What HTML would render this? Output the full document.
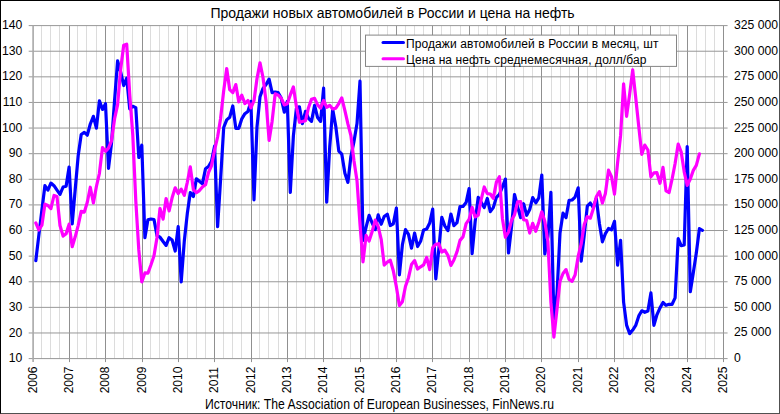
<!DOCTYPE html>
<html><head><meta charset="utf-8"><title>chart</title>
<style>
html,body{margin:0;padding:0;background:#fff;}
body{width:780px;height:414px;overflow:hidden;position:relative;font-family:"Liberation Sans",sans-serif;color:#000;}
#frame{position:absolute;left:0;top:0;width:780px;height:414px;box-sizing:border-box;border-left:1px solid #000;border-top:1px solid #000;border-right:1px solid #505050;border-bottom:1px solid #505050;}
.yl{position:absolute;left:0;width:22.3px;text-align:right;font-size:12.2px;line-height:14px;height:14px;}
.yr{position:absolute;left:734px;width:46px;text-align:left;font-size:12.2px;line-height:14px;height:14px;white-space:pre;}
.xl{position:absolute;top:379.5px;font-size:12px;line-height:14px;height:14px;width:40px;margin-left:-20px;margin-top:-7px;text-align:center;transform:rotate(-90deg);transform-origin:50% 50%;}
#title{position:absolute;left:210.5px;top:5px;font-size:14px;line-height:17px;white-space:nowrap;transform-origin:0 0;}
#src{position:absolute;left:205px;top:395.8px;font-size:14px;line-height:16px;white-space:nowrap;transform-origin:0 0;transform:scaleX(0.871);}
.lg{position:absolute;left:406px;font-size:12px;line-height:14px;white-space:pre;transform-origin:0 0;}
</style></head><body>
<div id="frame"></div>
<svg width="780" height="414" viewBox="0 0 780 414" style="position:absolute;left:0;top:0">
<g stroke="#dcdcdc" stroke-width="1">
<line x1="41.50" y1="25.6" x2="41.50" y2="358.6"/>
<line x1="50.50" y1="25.6" x2="50.50" y2="358.6"/>
<line x1="59.50" y1="25.6" x2="59.50" y2="358.6"/>
<line x1="77.50" y1="25.6" x2="77.50" y2="358.6"/>
<line x1="86.50" y1="25.6" x2="86.50" y2="358.6"/>
<line x1="96.50" y1="25.6" x2="96.50" y2="358.6"/>
<line x1="114.50" y1="25.6" x2="114.50" y2="358.6"/>
<line x1="123.50" y1="25.6" x2="123.50" y2="358.6"/>
<line x1="132.50" y1="25.6" x2="132.50" y2="358.6"/>
<line x1="150.50" y1="25.6" x2="150.50" y2="358.6"/>
<line x1="159.50" y1="25.6" x2="159.50" y2="358.6"/>
<line x1="168.50" y1="25.6" x2="168.50" y2="358.6"/>
<line x1="187.50" y1="25.6" x2="187.50" y2="358.6"/>
<line x1="196.50" y1="25.6" x2="196.50" y2="358.6"/>
<line x1="205.50" y1="25.6" x2="205.50" y2="358.6"/>
<line x1="223.50" y1="25.6" x2="223.50" y2="358.6"/>
<line x1="232.50" y1="25.6" x2="232.50" y2="358.6"/>
<line x1="241.50" y1="25.6" x2="241.50" y2="358.6"/>
<line x1="259.50" y1="25.6" x2="259.50" y2="358.6"/>
<line x1="268.50" y1="25.6" x2="268.50" y2="358.6"/>
<line x1="278.50" y1="25.6" x2="278.50" y2="358.6"/>
<line x1="296.50" y1="25.6" x2="296.50" y2="358.6"/>
<line x1="305.50" y1="25.6" x2="305.50" y2="358.6"/>
<line x1="314.50" y1="25.6" x2="314.50" y2="358.6"/>
<line x1="332.50" y1="25.6" x2="332.50" y2="358.6"/>
<line x1="341.50" y1="25.6" x2="341.50" y2="358.6"/>
<line x1="350.50" y1="25.6" x2="350.50" y2="358.6"/>
<line x1="369.50" y1="25.6" x2="369.50" y2="358.6"/>
<line x1="378.50" y1="25.6" x2="378.50" y2="358.6"/>
<line x1="387.50" y1="25.6" x2="387.50" y2="358.6"/>
<line x1="405.50" y1="25.6" x2="405.50" y2="358.6"/>
<line x1="414.50" y1="25.6" x2="414.50" y2="358.6"/>
<line x1="423.50" y1="25.6" x2="423.50" y2="358.6"/>
<line x1="441.50" y1="25.6" x2="441.50" y2="358.6"/>
<line x1="450.50" y1="25.6" x2="450.50" y2="358.6"/>
<line x1="460.50" y1="25.6" x2="460.50" y2="358.6"/>
<line x1="478.50" y1="25.6" x2="478.50" y2="358.6"/>
<line x1="487.50" y1="25.6" x2="487.50" y2="358.6"/>
<line x1="496.50" y1="25.6" x2="496.50" y2="358.6"/>
<line x1="514.50" y1="25.6" x2="514.50" y2="358.6"/>
<line x1="523.50" y1="25.6" x2="523.50" y2="358.6"/>
<line x1="532.50" y1="25.6" x2="532.50" y2="358.6"/>
<line x1="551.50" y1="25.6" x2="551.50" y2="358.6"/>
<line x1="560.50" y1="25.6" x2="560.50" y2="358.6"/>
<line x1="569.50" y1="25.6" x2="569.50" y2="358.6"/>
<line x1="587.50" y1="25.6" x2="587.50" y2="358.6"/>
<line x1="596.50" y1="25.6" x2="596.50" y2="358.6"/>
<line x1="605.50" y1="25.6" x2="605.50" y2="358.6"/>
<line x1="623.50" y1="25.6" x2="623.50" y2="358.6"/>
<line x1="632.50" y1="25.6" x2="632.50" y2="358.6"/>
<line x1="642.50" y1="25.6" x2="642.50" y2="358.6"/>
<line x1="660.50" y1="25.6" x2="660.50" y2="358.6"/>
<line x1="669.50" y1="25.6" x2="669.50" y2="358.6"/>
<line x1="678.50" y1="25.6" x2="678.50" y2="358.6"/>
<line x1="696.50" y1="25.6" x2="696.50" y2="358.6"/>
<line x1="705.50" y1="25.6" x2="705.50" y2="358.6"/>
<line x1="714.50" y1="25.6" x2="714.50" y2="358.6"/>
</g>
<g stroke="#909090" stroke-width="1">
<line x1="69.50" y1="25.6" x2="69.50" y2="362.1"/>
<line x1="105.50" y1="25.6" x2="105.50" y2="362.1"/>
<line x1="142.50" y1="25.6" x2="142.50" y2="362.1"/>
<line x1="178.50" y1="25.6" x2="178.50" y2="362.1"/>
<line x1="214.50" y1="25.6" x2="214.50" y2="362.1"/>
<line x1="251.50" y1="25.6" x2="251.50" y2="362.1"/>
<line x1="287.50" y1="25.6" x2="287.50" y2="362.1"/>
<line x1="323.50" y1="25.6" x2="323.50" y2="362.1"/>
<line x1="360.50" y1="25.6" x2="360.50" y2="362.1"/>
<line x1="396.50" y1="25.6" x2="396.50" y2="362.1"/>
<line x1="432.50" y1="25.6" x2="432.50" y2="362.1"/>
<line x1="469.50" y1="25.6" x2="469.50" y2="362.1"/>
<line x1="505.50" y1="25.6" x2="505.50" y2="362.1"/>
<line x1="541.50" y1="25.6" x2="541.50" y2="362.1"/>
<line x1="578.50" y1="25.6" x2="578.50" y2="362.1"/>
<line x1="614.50" y1="25.6" x2="614.50" y2="362.1"/>
<line x1="650.50" y1="25.6" x2="650.50" y2="362.1"/>
<line x1="687.50" y1="25.6" x2="687.50" y2="362.1"/>
<line x1="723.50" y1="25.6" x2="723.50" y2="362.1"/>
</g>
<g stroke="#989898" stroke-width="1">
<line x1="28.7" y1="25.60" x2="727.6" y2="25.60"/>
<line x1="28.7" y1="51.22" x2="727.6" y2="51.22"/>
<line x1="28.7" y1="76.83" x2="727.6" y2="76.83"/>
<line x1="28.7" y1="102.45" x2="727.6" y2="102.45"/>
<line x1="28.7" y1="128.06" x2="727.6" y2="128.06"/>
<line x1="28.7" y1="153.68" x2="727.6" y2="153.68"/>
<line x1="28.7" y1="179.29" x2="727.6" y2="179.29"/>
<line x1="28.7" y1="204.91" x2="727.6" y2="204.91"/>
<line x1="28.7" y1="230.52" x2="727.6" y2="230.52"/>
<line x1="28.7" y1="256.14" x2="727.6" y2="256.14"/>
<line x1="28.7" y1="281.75" x2="727.6" y2="281.75"/>
<line x1="28.7" y1="307.37" x2="727.6" y2="307.37"/>
<line x1="28.7" y1="332.98" x2="727.6" y2="332.98"/>
<line x1="28.7" y1="358.60" x2="727.6" y2="358.60"/>
</g>
<line x1="33.1" y1="25.6" x2="33.1" y2="362.1" stroke="#a8a8a8" stroke-width="1.6"/>
<path d="M35.8,260.7 L38.8,235.6 L41.9,210.0 L44.9,185.7 L47.9,190.1 L50.9,183.1 L54.0,185.7 L57.0,190.1 L60.0,194.4 L63.1,187.0 L66.1,186.2 L69.1,167.0 L72.2,223.9 L75.2,189.5 L78.2,155.5 L81.2,134.5 L84.3,132.4 L87.3,135.2 L90.3,124.0 L93.4,116.3 L96.4,128.1 L99.4,100.9 L102.5,109.4 L105.5,103.7 L108.5,168.3 L111.5,143.4 L114.6,99.9 L117.6,60.9 L120.6,71.7 L123.7,85.5 L126.7,78.1 L129.7,108.9 L132.8,106.3 L135.8,107.6 L138.8,157.5 L141.8,145.2 L144.9,237.7 L147.9,219.8 L150.9,219.0 L154.0,219.5 L157.0,235.6 L160.0,237.2 L163.1,241.5 L166.1,245.4 L169.1,237.7 L172.1,240.0 L175.2,251.0 L178.2,226.7 L181.2,282.0 L184.3,241.0 L187.3,213.6 L190.3,192.6 L193.4,196.5 L196.4,178.8 L199.4,181.3 L202.4,183.9 L205.5,168.8 L208.5,166.5 L211.5,161.4 L214.6,146.0 L217.6,226.7 L220.6,179.3 L223.7,127.5 L226.7,119.9 L229.7,117.3 L232.8,106.0 L235.8,128.3 L238.8,128.3 L241.8,118.8 L244.9,113.7 L247.9,111.4 L250.9,101.4 L254.0,199.8 L257.0,126.8 L260.0,96.8 L263.0,88.4 L266.1,84.5 L269.1,79.1 L272.1,92.7 L275.2,92.2 L278.2,92.7 L281.2,98.1 L284.3,112.2 L287.3,101.4 L290.3,192.4 L293.4,135.7 L296.4,108.3 L299.4,106.8 L302.4,123.7 L305.5,111.4 L308.5,118.3 L311.5,121.4 L314.6,105.3 L317.6,117.6 L320.6,121.4 L323.6,88.1 L326.7,202.2 L329.7,147.0 L332.7,109.3 L335.8,126.5 L338.8,151.1 L341.8,154.2 L344.9,173.3 L347.9,182.4 L350.9,156.5 L353.9,142.0 L357.0,123.6 L360.0,81.2 L363.0,240.4 L366.1,227.1 L369.1,215.3 L372.1,222.8 L375.2,229.7 L378.2,214.9 L381.2,224.3 L384.2,216.5 L387.3,214.2 L390.3,225.5 L393.3,223.8 L396.4,208.1 L399.4,274.8 L402.4,244.8 L405.5,229.6 L408.5,234.3 L411.5,248.2 L414.6,233.0 L417.6,246.5 L420.6,241.3 L423.6,229.9 L426.7,228.9 L429.7,223.0 L432.7,209.0 L435.8,278.8 L438.8,249.3 L441.8,217.3 L444.8,225.9 L447.9,230.6 L450.9,214.0 L453.9,225.7 L457.0,222.6 L460.0,206.5 L463.0,206.5 L466.1,202.6 L469.1,188.5 L472.1,253.6 L475.1,222.1 L478.2,197.4 L481.2,202.4 L484.2,207.5 L487.3,198.4 L490.3,211.6 L493.3,207.6 L496.4,197.3 L499.4,194.3 L502.4,187.0 L505.4,179.1 L508.5,253.0 L511.5,227.0 L514.5,194.5 L517.6,206.6 L520.6,217.6 L523.6,203.7 L526.7,215.3 L529.7,209.5 L532.7,197.6 L535.8,202.8 L538.8,197.9 L541.8,175.0 L544.8,254.0 L547.9,236.6 L550.9,192.3 L553.9,318.7 L557.0,294.0 L560.0,233.0 L563.0,213.2 L566.0,217.7 L569.1,200.4 L572.1,200.0 L575.1,197.1 L578.2,187.8 L581.2,261.1 L584.2,235.6 L587.3,206.2 L590.3,203.0 L593.3,207.6 L596.3,198.4 L599.4,223.4 L602.4,241.8 L605.4,233.6 L608.5,228.5 L611.5,229.8 L614.5,221.3 L617.6,265.2 L620.6,240.3 L623.6,302.1 L626.6,325.1 L629.7,333.7 L632.7,330.1 L635.7,325.4 L638.8,315.9 L641.8,310.8 L644.8,312.3 L647.9,311.1 L650.9,292.9 L653.9,325.3 L656.9,314.8 L660.0,307.9 L663.0,302.5 L666.0,305.3 L669.1,304.3 L672.1,304.3 L675.1,297.9 L678.2,238.7 L681.2,245.6 L684.2,244.9 L687.2,146.5 L690.3,291.7 L693.3,272.8 L696.3,253.1 L699.4,228.7 L702.4,230.3" fill="none" stroke="#0000ff" stroke-width="3.2" stroke-linejoin="round" stroke-linecap="round"/>
<path d="M35.8,222.9 L38.8,230.0 L41.9,225.2 L44.9,204.2 L47.9,205.5 L50.9,208.6 L54.0,195.5 L57.0,196.6 L60.0,225.5 L63.1,236.1 L66.1,233.7 L69.1,224.2 L72.2,246.7 L75.2,236.8 L78.2,225.3 L81.2,211.3 L84.3,212.1 L87.3,202.2 L90.3,187.2 L93.4,203.0 L96.4,186.5 L99.4,173.3 L102.5,147.5 L105.5,151.3 L108.5,148.1 L111.5,140.9 L114.6,118.7 L117.6,104.8 L120.6,69.7 L123.7,45.3 L126.7,44.2 L129.7,94.1 L132.8,135.2 L135.8,200.9 L138.8,249.9 L141.8,281.9 L144.9,272.9 L147.9,273.2 L150.9,265.0 L154.0,255.7 L157.0,237.4 L160.0,208.5 L163.1,219.1 L166.1,198.5 L169.1,210.9 L172.1,197.8 L175.2,187.8 L178.2,193.5 L181.2,189.1 L184.3,195.3 L187.3,182.3 L190.3,166.9 L193.4,189.7 L196.4,192.7 L199.4,190.6 L202.4,186.9 L205.5,184.8 L208.5,172.5 L211.5,165.8 L214.6,150.0 L217.6,137.0 L220.6,118.5 L223.7,90.6 L226.7,68.5 L229.7,89.7 L232.8,92.6 L235.8,84.6 L238.8,101.9 L241.8,95.2 L244.9,103.6 L247.9,100.5 L250.9,107.9 L254.0,100.7 L257.0,78.5 L260.0,62.9 L263.0,77.5 L266.1,101.6 L269.1,140.5 L272.1,121.4 L275.2,93.8 L278.2,95.1 L281.2,98.1 L284.3,104.9 L287.3,103.8 L290.3,94.9 L293.4,86.9 L296.4,106.4 L299.4,122.3 L302.4,121.5 L305.5,120.6 L308.5,107.7 L311.5,99.2 L314.6,98.3 L317.6,104.8 L320.6,108.1 L323.6,100.5 L326.7,107.3 L329.7,105.3 L332.7,108.9 L335.8,108.2 L338.8,103.6 L341.8,97.8 L344.9,110.7 L347.9,123.9 L350.9,135.5 L353.9,160.3 L357.0,180.7 L360.0,224.5 L363.0,261.9 L366.1,235.4 L369.1,241.1 L372.1,231.8 L375.2,220.1 L378.2,226.7 L381.2,239.3 L384.2,265.1 L387.3,262.2 L390.3,260.2 L393.3,270.8 L396.4,286.9 L399.4,305.6 L402.4,301.8 L405.5,286.3 L408.5,277.7 L411.5,264.5 L414.6,260.6 L417.6,269.1 L420.6,266.8 L423.6,264.9 L426.7,257.4 L429.7,269.6 L432.7,247.7 L435.8,244.4 L438.8,243.7 L441.8,252.1 L444.8,250.2 L447.9,255.3 L450.9,265.4 L453.9,260.0 L457.0,251.8 L460.0,240.4 L463.0,236.9 L466.1,223.6 L469.1,219.3 L472.1,207.3 L475.1,216.9 L478.2,215.1 L481.2,199.5 L484.2,187.0 L487.3,193.6 L490.3,194.0 L493.3,198.4 L496.4,182.1 L499.4,176.7 L502.4,218.4 L505.4,237.3 L508.5,232.0 L511.5,220.4 L514.5,214.8 L517.6,201.8 L520.6,201.5 L523.6,219.7 L526.7,220.5 L529.7,233.0 L532.7,223.3 L535.8,231.3 L538.8,222.3 L541.8,211.8 L544.8,221.2 L547.9,241.6 L550.9,302.2 L553.9,337.1 L557.0,309.0 L560.0,281.1 L563.0,273.5 L566.0,269.6 L569.1,279.4 L572.1,281.3 L575.1,274.9 L578.2,256.2 L581.2,243.9 L584.2,224.7 L587.3,216.7 L590.3,218.2 L593.3,208.7 L596.3,196.8 L599.4,191.7 L602.4,203.0 L605.4,193.4 L608.5,170.2 L611.5,176.6 L614.5,194.2 L617.6,162.6 L620.6,135.4 L623.6,83.9 L626.6,116.3 L629.7,93.9 L632.7,69.9 L635.7,97.5 L638.8,126.9 L641.8,154.3 L644.8,145.1 L647.9,150.0 L650.9,176.9 L653.9,172.9 L656.9,172.7 L660.0,183.3 L663.0,167.4 L666.0,190.9 L669.1,192.5 L672.1,179.0 L675.1,163.5 L678.2,144.1 L681.2,152.1 L684.2,171.8 L687.2,185.4 L690.3,179.0 L693.3,170.4 L696.3,165.4 L699.4,153.8" fill="none" stroke="#ff00ff" stroke-width="3.2" stroke-linejoin="round" stroke-linecap="round"/>
<rect x="365.5" y="35.1" width="311" height="31.3" fill="#fff" stroke="#868686" stroke-width="1"/>
<line x1="383" y1="42.6" x2="403.5" y2="42.6" stroke="#0000ff" stroke-width="3" stroke-linecap="round"/>
<line x1="383" y1="58.8" x2="403.5" y2="58.8" stroke="#ff00ff" stroke-width="3" stroke-linecap="round"/>
</svg>
<div class="yl" style="top:18.1px">140</div>
<div class="yr" style="top:18.0px">325 000</div>
<div class="yl" style="top:43.7px">130</div>
<div class="yr" style="top:43.6px">300 000</div>
<div class="yl" style="top:69.3px">120</div>
<div class="yr" style="top:69.2px">275 000</div>
<div class="yl" style="top:94.9px">110</div>
<div class="yr" style="top:94.8px">250 000</div>
<div class="yl" style="top:120.6px">100</div>
<div class="yr" style="top:120.5px">225 000</div>
<div class="yl" style="top:146.2px">90</div>
<div class="yr" style="top:146.1px">200 000</div>
<div class="yl" style="top:171.8px">80</div>
<div class="yr" style="top:171.7px">175 000</div>
<div class="yl" style="top:197.4px">70</div>
<div class="yr" style="top:197.3px">150 000</div>
<div class="yl" style="top:223.0px">60</div>
<div class="yr" style="top:222.9px">125 000</div>
<div class="yl" style="top:248.6px">50</div>
<div class="yr" style="top:248.5px">100 000</div>
<div class="yl" style="top:274.3px">40</div>
<div class="yr" style="top:274.2px">75 000</div>
<div class="yl" style="top:299.9px">30</div>
<div class="yr" style="top:299.8px">50 000</div>
<div class="yl" style="top:325.5px">20</div>
<div class="yr" style="top:325.4px">25 000</div>
<div class="yl" style="top:351.1px">10</div>
<div class="yr" style="top:351.0px">0</div>
<div class="xl" style="left:32.6px">2006</div>
<div class="xl" style="left:68.9px">2007</div>
<div class="xl" style="left:105.3px">2008</div>
<div class="xl" style="left:141.6px">2009</div>
<div class="xl" style="left:177.9px">2010</div>
<div class="xl" style="left:214.3px">2011</div>
<div class="xl" style="left:250.6px">2012</div>
<div class="xl" style="left:287.0px">2013</div>
<div class="xl" style="left:323.3px">2014</div>
<div class="xl" style="left:359.6px">2015</div>
<div class="xl" style="left:396.0px">2016</div>
<div class="xl" style="left:432.3px">2017</div>
<div class="xl" style="left:468.6px">2018</div>
<div class="xl" style="left:505.0px">2019</div>
<div class="xl" style="left:541.3px">2020</div>
<div class="xl" style="left:577.7px">2021</div>
<div class="xl" style="left:614.0px">2022</div>
<div class="xl" style="left:650.3px">2023</div>
<div class="xl" style="left:686.7px">2024</div>
<div class="xl" style="left:723.0px">2025</div>
<div id="title">Продажи новых автомобилей в России и цена на нефть</div>
<div class="lg" id="lg1" style="top:36.7px;letter-spacing:0.09px">Продажи автомобилей в России в месяц, шт</div>
<div class="lg" id="lg2" style="top:52.7px;letter-spacing:0.09px">Цена на нефть среднемесячная, долл/бар</div>
<div id="src">Источник: The Association of European Businesses, FinNews.ru</div>
</body></html>
